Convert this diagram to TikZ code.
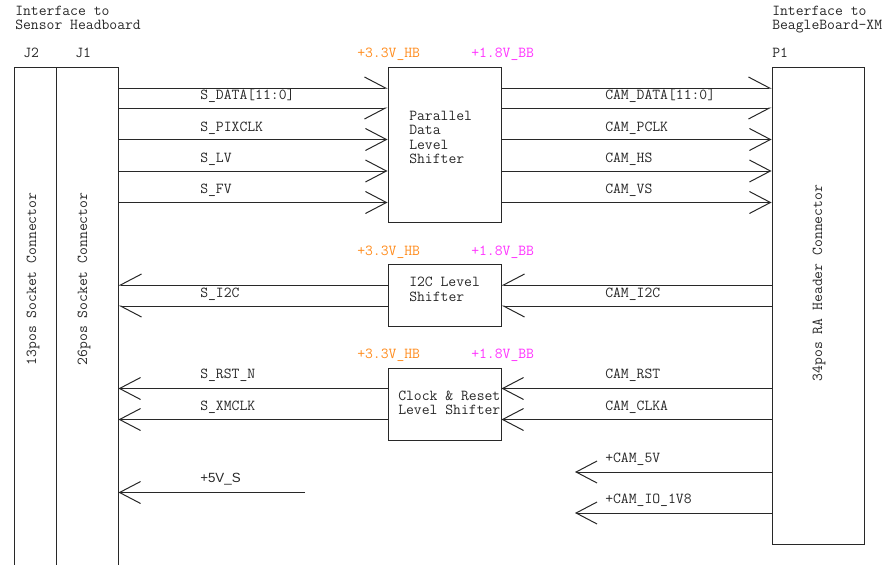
\documentclass[tikz,border=0pt]{standalone}
\usepackage{fontspec}
\newfontfamily\sansf{Liberation Sans}
\usetikzlibrary{arrows.meta}
\definecolor{hbcol}{RGB}{255,140,30}
\definecolor{bbcol}{RGB}{255,50,255}
\definecolor{ink}{RGB}{40,40,40}
\begin{document}
\begin{tikzpicture}[x=0.75pt,y=-0.75pt,
  font=\ttfamily\fontsize{11.43pt}{10.7pt}\selectfont,
  every node/.style={text=ink},
  box/.style={draw=ink, line width=0.75pt, inner sep=0pt, rectangle},
  wire/.style={draw=ink, line width=0.75pt},
  tip/.style={-{Straight Barb[length=15.75pt,width=16.5pt]}},
  tipup/.style={-{Straight Barb[left,length=15.75pt,width=16.5pt]}},
  tipdn/.style={-{Straight Barb[right,length=15.75pt,width=16.5pt]}},
  lbl/.style={anchor=base west, inner sep=0pt},
  hb/.style={lbl, text=hbcol},
  bb/.style={lbl, text=bbcol},
  boxtext/.style={anchor=north west, inner sep=0pt, align=left}
]
\useasboundingbox (0,0) rectangle (885,564);

% connectors / boxes
\node[box, minimum width=31.5pt, minimum height=381pt] (j2) at (35,321) {};
\node[box, minimum width=46.5pt, minimum height=381pt] (j1) at (87,321) {};
\node[box, minimum width=84.75pt, minimum height=116.25pt] (par) at (444.5,144.5) {};
\node[box, minimum width=84.75pt, minimum height=46.5pt] (i2c) at (444.5,295) {};
\node[box, minimum width=84.75pt, minimum height=54pt] (clk) at (444.5,404) {};
\node[box, minimum width=69pt, minimum height=357.75pt] (p1) at (818,305.5) {};

% header texts
\node[lbl] (tl1) at (15,15) {Interface to};
\node[lbl] (tl2) at (15,29) {Sensor Headboard};
\node[lbl] (tr1) at (772,15) {Interface to};
\node[lbl] (tr2) at (772,29) {BeagleBoard-XM};
\node[lbl] (lj2) at (23,57) {J2};
\node[lbl] (lj1) at (75,57) {J1};
\node[lbl] (lp1) at (772,57) {P1};

% rotated texts
\node[rotate=90, inner sep=0pt] (t13) at (33,279) {13pos Socket Connector};
\node[rotate=90, inner sep=0pt] (t26) at (84,279) {26pos Socket Connector};
\node[rotate=90, inner sep=0pt] (t34) at (819,283) {34pos RA Header Connector};

% box texts
\node[boxtext] (part) at (409,111) {Parallel\\Data\\Level\\Shifter};
\node[boxtext] (i2ct) at (409,277) {I2C Level\\Shifter};
\node[boxtext] (clkt) at (398,390.5) {Clock \& Reset\\Level Shifter};

% supply labels
\node[hb] (hb1) at (357,57) {+3.3V\_HB};
\node[bb] (bb1) at (471,57) {+1.8V\_BB};
\node[hb] (hb2) at (357,255) {+3.3V\_HB};
\node[bb] (bb2) at (471,255) {+1.8V\_BB};
\node[hb] (hb3) at (357,358) {+3.3V\_HB};
\node[bb] (bb3) at (471,358) {+1.8V\_BB};

% rows
\coordinate (r1) at (0,88);
\coordinate (r2) at (0,108);
\coordinate (r3) at (0,139.5);
\coordinate (r4) at (0,171);
\coordinate (r5) at (0,202.5);
\coordinate (r6) at (0,285);
\coordinate (r7) at (0,306);
\coordinate (r8) at (0,388.5);
\coordinate (r9) at (0,419.5);
\coordinate (r10) at (0,472);
\coordinate (r11) at (0,492.5);
\coordinate (r12) at (0,513);
\coordinate (e5v) at (305,492.5);
\coordinate (ecam5) at (575,472);
\coordinate (ecamio) at (575,513);

% parallel data
\draw[wire, tipup] (j1.east |- r1) -- (par.west |- r1);
\draw[wire, tipdn] (j1.east |- r2) -- (par.west |- r2);
\draw[wire, tip] (j1.east |- r3) -- (par.west |- r3);
\draw[wire, tip] (j1.east |- r4) -- (par.west |- r4);
\draw[wire, tip] (j1.east |- r5) -- (par.west |- r5);
\draw[wire, tipup] (par.east |- r1) -- (p1.west |- r1);
\draw[wire, tipdn] (par.east |- r2) -- (p1.west |- r2);
\draw[wire, tip] (par.east |- r3) -- (p1.west |- r3);
\draw[wire, tip] (par.east |- r4) -- (p1.west |- r4);
\draw[wire, tip] (par.east |- r5) -- (p1.west |- r5);

\node[lbl] (ls1) at (200,99) {S\_DATA[11:0]};
\node[lbl] (ls2) at (200,131) {S\_PIXCLK};
\node[lbl] (ls3) at (200,162) {S\_LV};
\node[lbl] (ls4) at (200,193) {S\_FV};
\node[lbl] (lc1) at (605,99) {CAM\_DATA[11:0]};
\node[lbl] (lc2) at (605,131) {CAM\_PCLK};
\node[lbl] (lc3) at (605,162) {CAM\_HS};
\node[lbl] (lc4) at (605,193) {CAM\_VS};

% I2C
\draw[wire, tipdn] (i2c.west |- r6) -- (j1.east |- r6);
\draw[wire, tipup] (i2c.west |- r7) -- (j1.east |- r7);
\draw[wire, tipdn] (p1.west |- r6) -- (i2c.east |- r6);
\draw[wire, tipup] (p1.west |- r7) -- (i2c.east |- r7);
\node[lbl] (ls5) at (200,297) {S\_I2C};
\node[lbl] (lc5) at (605,297) {CAM\_I2C};

% clock & reset
\draw[wire, tip] (clk.west |- r8) -- (j1.east |- r8);
\draw[wire, tip] (clk.west |- r9) -- (j1.east |- r9);
\draw[wire, tip] (p1.west |- r8) -- (clk.east |- r8);
\draw[wire, tip] (p1.west |- r9) -- (clk.east |- r9);
\node[lbl] (ls6) at (200,378) {S\_RST\_N};
\node[lbl] (ls7) at (200,410) {S\_XMCLK};
\node[lbl] (lc6) at (605,378) {CAM\_RST};
\node[lbl] (lc7) at (605,410) {CAM\_CLKA};

% power
\draw[wire, tip] (e5v) -- (j1.east |- r11);
\node[lbl, font=\sansf\fontsize{10pt}{12pt}\selectfont] (ls8) at (200,482) {+5V\_S};
\draw[wire, tip] (p1.west |- r10) -- (ecam5);
\draw[wire, tip] (p1.west |- r12) -- (ecamio);
\node[lbl] (lc8) at (605,462) {+CAM\_5V};
\node[lbl] (lc9) at (605,503) {+CAM\_IO\_1V8};
\end{tikzpicture}
\end{document}
